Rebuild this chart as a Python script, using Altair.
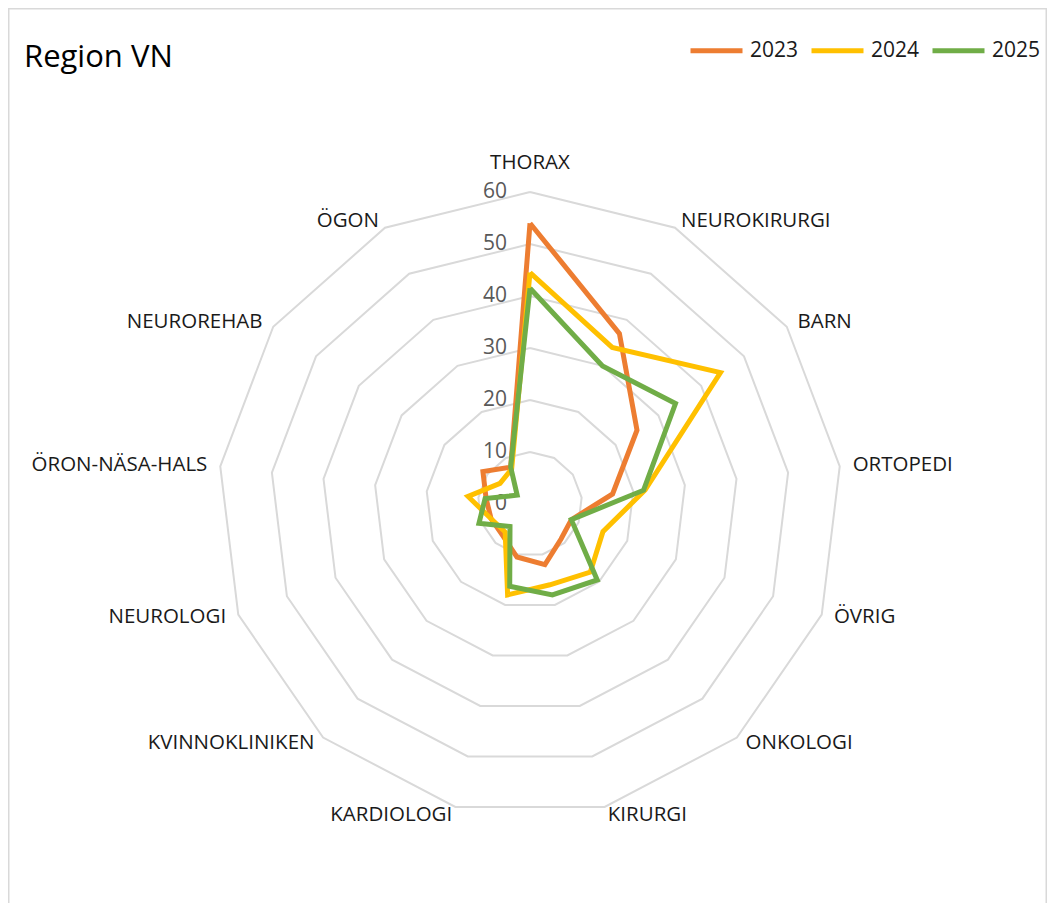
import altair as alt
import pandas as pd

# ---------------- data ----------------
categories = ["THORAX", "NEUROKIRURGI", "BARN", "ORTOPEDI", "ÖVRIG", "ONKOLOGI",
              "KIRURGI", "KARDIOLOGI", "KVINNOKLINIKEN", "NEUROLOGI",
              "ÖRON-NÄSA-HALS", "NEUROREHAB", "ÖGON"]
v2023 = [54, 37, 25, 16, 8.5, 9, 12, 10.5, 8, 8, 8.5, 11, 8]
v2024 = [44.5, 34, 44.5, 22.3, 15, 17.5, 16, 18, 7.2, 8, 12, 7, 7.6]
v2025 = [41.5, 30, 34, 22, 8.5, 19.5, 18, 16.3, 5.8, 10.5, 8.7, 3, 8]
series_names = ["2023", "2024", "2025"]
series_colors = ["#ED7D31", "#FFC000", "#70AD47"]
ring_levels = [10, 20, 30, 40, 50, 60]
tick_labels = [0, 10, 20, 30, 40, 50, 60]
title_text = "Region VN"

N = len(categories)

rows = []
for name, vals in zip(series_names, [v2023, v2024, v2025]):
    for i in range(N + 1):
        rows.append({"series": name, "idx": i, "category": categories[i % N],
                     "value": vals[i % N]})
series_df = pd.DataFrame(rows)
ring_df = pd.DataFrame([{"level": L, "idx": i} for L in ring_levels for i in range(N + 1)])
tick_df = pd.DataFrame({"level": tick_labels})
cat_df = pd.DataFrame({"category": categories, "idx": list(range(N))})

# ---------------- layout ----------------
W, H = 1039, 895
CX, CY, PPU = 522, 496, 5.2
xdom = [-CX / PPU, (W - CX) / PPU]
ydom = [-(H - CY) / PPU, CY / PPU]
xs = alt.Scale(domain=xdom, nice=False, zero=False)
ys = alt.Scale(domain=ydom, nice=False, zero=False)
ANG = "datum.idx * 2 * PI / %d" % N
FONT = "Open Sans"


def X(field="x"):
    return alt.X(f"{field}:Q", scale=xs, axis=None)


def Y(field="y"):
    return alt.Y(f"{field}:Q", scale=ys, axis=None)


rings = alt.Chart(ring_df).transform_calculate(
    x=f"datum.level * sin({ANG})", y=f"datum.level * cos({ANG})"
).mark_line(color="#D9D9D9", strokeWidth=2).encode(
    x=X(), y=Y(), detail="level:N", order="idx:Q"
)

ticks = alt.Chart(tick_df).transform_calculate(x="0", y="datum.level").mark_text(
    align="right", baseline="middle", dx=-23, font=FONT, fontSize=21, color="#595959"
).encode(x=X(), y=Y(), text="level:Q")

lines = alt.Chart(series_df).transform_calculate(
    x=f"datum.value * sin({ANG})", y=f"datum.value * cos({ANG})"
).mark_line(strokeWidth=5, strokeJoin="miter").encode(
    x=X(), y=Y(), order="idx:Q",
    color=alt.Color(
        "series:N",
        scale=alt.Scale(domain=series_names, range=series_colors),
        legend=alt.Legend(
            orient="none", legendX=680, legendY=14, direction="horizontal",
            title=None, symbolType="stroke", symbolSize=2704, symbolStrokeWidth=5,
            labelFont=FONT, labelFontSize=21, labelColor="#1a1a1a",
            labelOffset=5, columnPadding=2, padding=0,
        ),
    ),
)

cat_base = alt.Chart(cat_df).transform_calculate(
    s=f"sin({ANG})",
    x=f"62.5 * sin({ANG})",
    y=f"datum.idx == 0 ? 65.6 : 61.5 * cos({ANG})",
)
cat_left = cat_base.transform_filter("datum.s > 0.01").mark_text(
    align="left", baseline="middle", font=FONT, fontSize=20.5, color="#1a1a1a"
).encode(x=X(), y=Y(), text="category:N")
cat_right = cat_base.transform_filter("datum.s < -0.01").mark_text(
    align="right", baseline="middle", font=FONT, fontSize=20.5, color="#1a1a1a"
).encode(x=X(), y=Y(), text="category:N")
cat_center = cat_base.transform_filter("abs(datum.s) <= 0.01").mark_text(
    align="center", baseline="middle", font=FONT, fontSize=20.5, color="#1a1a1a"
).encode(x=X(), y=Y(), text="category:N")

title = alt.Chart(pd.DataFrame({"t": [title_text]})).mark_text(
    align="left", baseline="alphabetic", font=FONT, fontSize=31, color="#000000"
).encode(x=alt.value(16), y=alt.value(59), text="t:N")

frame_df = pd.DataFrame({"k": [0]})
frame_left = alt.Chart(frame_df).mark_rule(color="#D9D9D9", strokeWidth=1.5).encode(
    x=alt.value(0.75), y=alt.value(0), y2=alt.value(H))
frame_top = alt.Chart(frame_df).mark_rule(color="#D9D9D9", strokeWidth=1.5).encode(
    x=alt.value(0), x2=alt.value(W), y=alt.value(0.75))
frame_right = alt.Chart(frame_df).mark_rule(color="#D9D9D9", strokeWidth=1.5).encode(
    x=alt.value(W - 0.75), y=alt.value(0), y2=alt.value(H))

chart = alt.layer(
    frame_left, frame_top, frame_right, rings, ticks, lines,
    cat_left, cat_right, cat_center, title
).properties(
    width=W, height=H, padding=0, autosize=alt.AutoSizeParams(type="none")
).configure_view(stroke=None)

chart.save("out.html", embed_options={"renderer": "svg", "actions": False})
